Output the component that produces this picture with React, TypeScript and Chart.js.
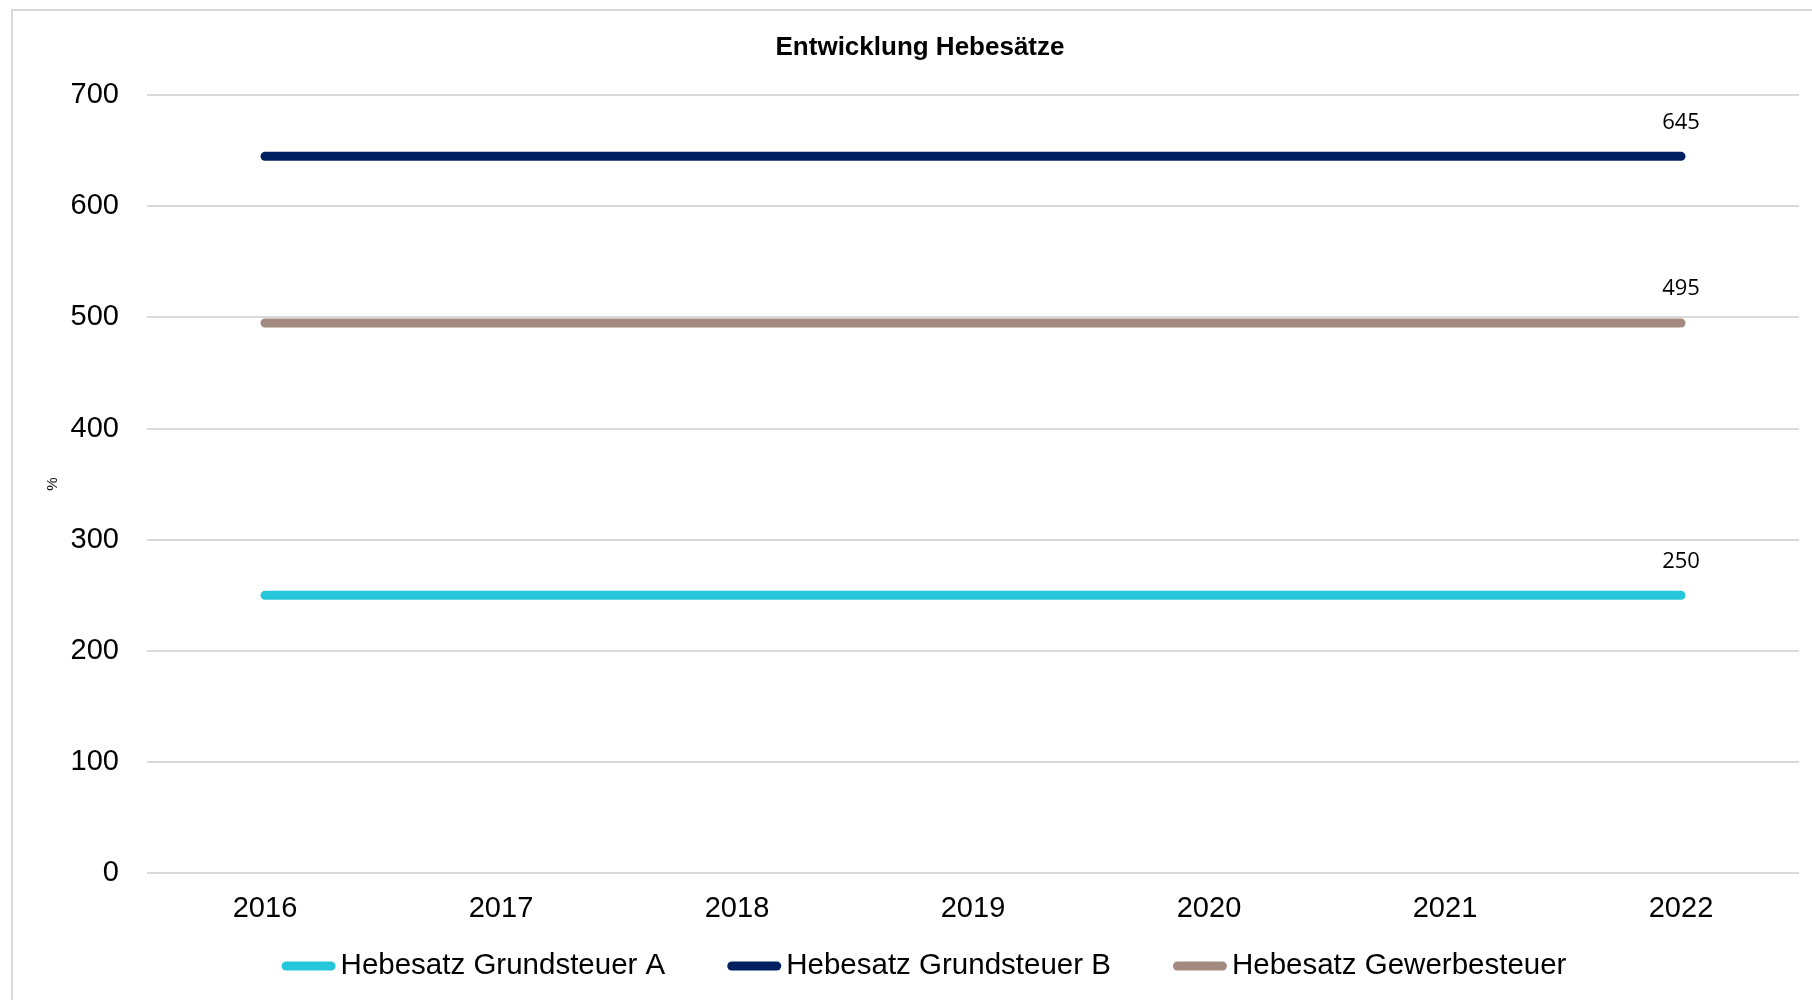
import React, { useEffect, useRef } from "react";
import { Chart, registerables } from "chart.js";

Chart.register(...registerables);

const years = ["2016", "2017", "2018", "2019", "2020", "2021", "2022"];
const seriesNames = ["Hebesatz Grundsteuer A", "Hebesatz Grundsteuer B", "Hebesatz Gewerbesteuer"];
const grundsteuerA = [250, 250, 250, 250, 250, 250, 250];
const grundsteuerB = [645, 645, 645, 645, 645, 645, 645];
const gewerbesteuer = [495, 495, 495, 495, 495, 495, 495];
const seriesColors = ["#26C6DA", "#002060", "#A38A80"];
const yTicks = { min: 0, max: 700, step: 100 };
const chartTitle = "Entwicklung Hebesätze";
const yTitle = "%";

const FONT = "'Liberation Sans', Arial, Helvetica, sans-serif";
const LABEL_FONT = "'Open Sans', 'Noto Sans', sans-serif";

const valueLabelPlugin = {
  id: "valueLabels",
  afterDatasetsDraw(chart: any) {
    const ctx = chart.ctx;
    ctx.save();
    ctx.font = `22px ${LABEL_FONT}`;
    ctx.fillStyle = "#000";
    ctx.textAlign = "center";
    ctx.textBaseline = "middle";
    chart.data.datasets.forEach((ds: any, i: number) => {
      const meta = chart.getDatasetMeta(i);
      const last = meta.data.length - 1;
      const pt = meta.data[last];
      if (!pt) return;
      ctx.fillText(String(ds.data[last]), pt.x, pt.y - 34);
    });
    ctx.restore();
  },
};

const legendPlugin = {
  id: "customLegend",
  afterDraw(chart: any) {
    const ctx = chart.ctx;
    ctx.save();
    ctx.font = `29.5px ${FONT}`;
    const core = 45;
    const lw = 9;
    const gap = 5;
    const spacing = 62;
    const items = chart.data.datasets.map((ds: any) => {
      const tw = ctx.measureText(ds.label).width;
      return { ds, tw, w: core + lw + gap + tw };
    });
    const total = items.reduce((s: number, it: any) => s + it.w, 0) + spacing * (items.length - 1);
    let x = chart.width / 2 + 4 - total / 2;
    const y = 966;
    items.forEach((it: any) => {
      ctx.beginPath();
      ctx.lineCap = "round";
      ctx.lineWidth = lw;
      ctx.strokeStyle = it.ds.borderColor;
      ctx.moveTo(x + lw / 2, y);
      ctx.lineTo(x + lw / 2 + core, y);
      ctx.stroke();
      ctx.fillStyle = "#000";
      ctx.textAlign = "left";
      ctx.textBaseline = "middle";
      ctx.fillText(it.ds.label, x + core + lw + gap, y);
      x += it.w + spacing;
    });
    ctx.restore();
  },
};

export default function App() {
  const ref = useRef<HTMLCanvasElement | null>(null);

  useEffect(() => {
    if (!ref.current) return;
    const values = [grundsteuerA, grundsteuerB, gewerbesteuer];
    const chart = new Chart(ref.current, {
      type: "line",
      data: {
        labels: years,
        datasets: values.map((v, i) => ({
          label: seriesNames[i],
          data: v,
          borderColor: seriesColors[i],
          backgroundColor: seriesColors[i],
          borderWidth: 9,
          borderCapStyle: "round",
          borderJoinStyle: "round",
          pointRadius: 0,
          pointHoverRadius: 0,
          fill: false,
          tension: 0,
          yAxisID: "y",
        })),
      },
      options: {
        responsive: false,
        animation: false,
        events: [],
        layout: { padding: { left: 13, right: 13, top: 10, bottom: 56 } },
        plugins: {
          legend: { display: false },
          tooltip: { enabled: false },
          title: {
            display: true,
            text: chartTitle,
            color: "#000",
            font: { family: FONT, size: 26, weight: "bold" },
            padding: { top: 22, bottom: 32 },
          },
        },
        scales: {
          x: {
            type: "category",
            offset: true,
            grid: { display: false, drawTicks: false },
            border: { display: false },
            ticks: {
              color: "#000",
              font: { family: FONT, size: 29 },
              padding: 18,
              maxRotation: 0,
            },
          },
          y: {
            type: "linear",
            position: "left",
            min: yTicks.min,
            max: yTicks.max,
            ticks: {
              stepSize: yTicks.step,
              color: "#000",
              font: { family: FONT, size: 29 },
              padding: 28,
            },
            grid: { color: "#d9d9d9", lineWidth: 2, drawTicks: false },
            border: { display: false },
            title: {
              display: true,
              text: yTitle,
              color: "#000",
              font: { family: FONT, size: 15 },
              padding: { top: 31, bottom: 0 },
            },
            afterFit: (s: any) => {
              s.width = 134;
            },
          },
          yR: {
            type: "linear",
            position: "right",
            display: true,
            grid: { display: false, drawTicks: false },
            border: { display: false },
            ticks: { display: false },
            afterFit: (s: any) => {
              s.width = 28;
            },
          },
        },
      } as any,
      plugins: [valueLabelPlugin, legendPlugin],
    });
    return () => chart.destroy();
  }, []);

  return (
    <div
      style={{
        position: "fixed",
        left: 0,
        top: 0,
        width: 1812,
        height: 1000,
        overflow: "hidden",
        background: "#fff",
      }}
    >
      <div
        style={{
          position: "absolute",
          left: 11,
          top: 9,
          width: 1840,
          height: 1010,
          border: "2px solid #d9d9d9",
          boxSizing: "border-box",
        }}
      />
      <canvas
        ref={ref}
        width={1840}
        height={1000}
        style={{ position: "absolute", left: 0, top: 0, display: "block" }}
      />
    </div>
  );
}
